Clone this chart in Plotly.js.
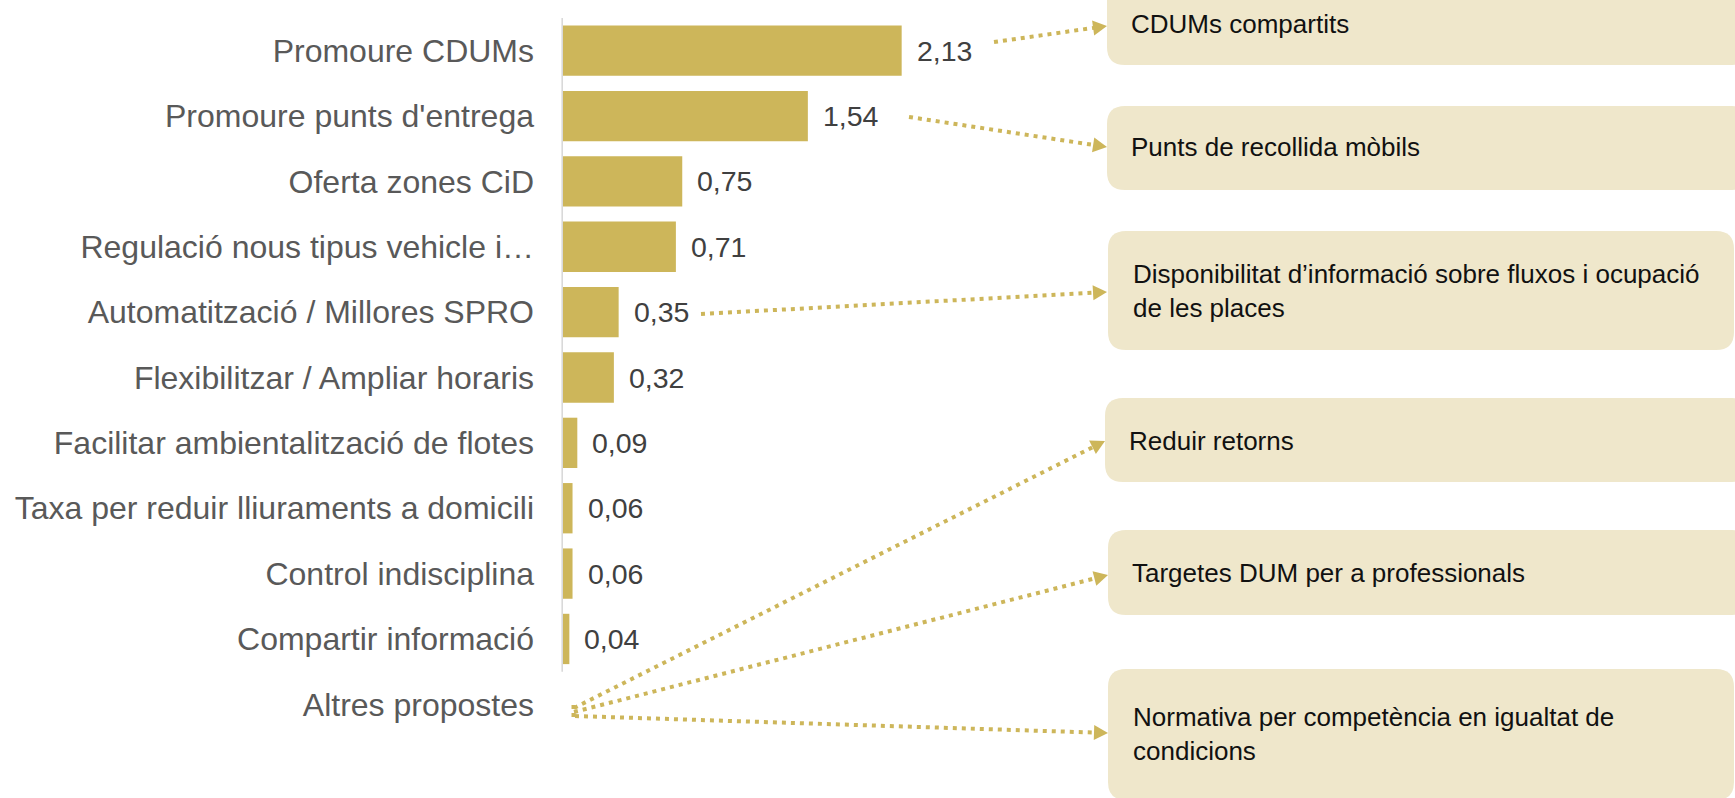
<!DOCTYPE html>
<html>
<head>
<meta charset="utf-8">
<script src="https://cdn.plot.ly/plotly-3.0.1.min.js"></script>
<style>html,body{margin:0;padding:0;background:#fff;}#chart{width:1735px;height:798px;}</style>
</head>
<body>
<div id="chart"></div>
<script>
// ---- data ----
const categories = [
  "Promoure CDUMs",
  "Promoure punts d'entrega",
  "Oferta zones CiD",
  "Regulació nous tipus vehicle i…",
  "Automatització / Millores SPRO",
  "Flexibilitzar / Ampliar horaris",
  "Facilitar ambientalització de flotes",
  "Taxa per reduir lliuraments a domicili",
  "Control indisciplina",
  "Compartir informació",
  "Altres propostes"
];
const values = [2.13, 1.54, 0.75, 0.71, 0.35, 0.32, 0.09, 0.06, 0.06, 0.04, null];
const proposals = [
  "CDUMs compartits",
  "Punts de recollida mòbils",
  "Disponibilitat d’informació sobre fluxos i ocupació<br>de les places",
  "Reduir retorns",
  "Targetes DUM per a professionals",
  "Normativa per competència en igualtat de<br>condicions"
];

// ---- layout geometry (pixels) ----
const W = 1735, H = 798;
const ML = 563, MR = 0, MT = 18, MB = 61;
const PW = W - ML - MR, PH = H - MT - MB;
const X = px => (px - ML) / PW;
const Y = py => (H - MB - py) / PH;

const GOLD = '#CDB65A';
const BOXFILL = '#EFE7CB';

function rrect(x0, y0, x1, y1, r) {
  const p = (x, y) => X(x) + ',' + Y(y);
  return 'M' + p(x0 + r, y0) + ' L' + p(x1 - r, y0) + ' Q' + p(x1, y0) + ' ' + p(x1, y0 + r) +
    ' L' + p(x1, y1 - r) + ' Q' + p(x1, y1) + ' ' + p(x1 - r, y1) +
    ' L' + p(x0 + r, y1) + ' Q' + p(x0, y1) + ' ' + p(x0, y1 - r) +
    ' L' + p(x0, y0 + r) + ' Q' + p(x0, y0) + ' ' + p(x0 + r, y0) + ' Z';
}

function arrow(x0, y0, x1, y1) {
  const dx = x1 - x0, dy = y1 - y0, L = Math.hypot(dx, dy);
  const ux = dx / L, uy = dy / L;
  const hl = 14, hw = 7.5;
  const bx = x1 - ux * hl, by = y1 - uy * hl;
  const line = {
    type: 'line', xref: 'paper', yref: 'paper',
    x0: X(x0), y0: Y(y0), x1: X(bx + ux * 2), y1: Y(by + uy * 2),
    line: {color: GOLD, width: 4, dash: '4px,5px'}
  };
  const head = {
    type: 'path', xref: 'paper', yref: 'paper',
    path: 'M' + X(x1) + ',' + Y(y1) +
      ' L' + X(bx - uy * hw) + ',' + Y(by + ux * hw) +
      ' L' + X(bx + uy * hw) + ',' + Y(by - ux * hw) + ' Z',
    fillcolor: GOLD, line: {width: 0}
  };
  return [line, head];
}

// boxes: [x0, y0, x1, y1, textX, textCenterY]
const boxes = [
  [1107, -18, 1750, 65, 1129, 24],
  [1107, 106, 1750, 190, 1129, 147.5],
  [1108, 231, 1734, 350, 1131, 291],
  [1105, 398, 1750, 482, 1127, 441],
  [1108, 530, 1750, 615, 1130, 572.5],
  [1108, 669, 1734, 800, 1131, 734]
];
const arrows = [
  [994, 42, 1107, 26],
  [909, 117, 1107, 147],
  [701, 314, 1107, 292],
  [574, 708, 1105, 441],
  [574, 712, 1108, 575],
  [575, 716, 1108, 733]
];

const shapes = [];
// axis line spanning the ten bars
shapes.push({type: 'line', xref: 'paper', yref: 'y', x0: X(562.2), x1: X(562.2), y0: -0.5, y1: 9.5,
  line: {color: '#D9D9D9', width: 1.6}});
boxes.forEach(b => shapes.push({type: 'path', xref: 'paper', yref: 'paper', path: rrect(b[0], b[1], b[2], b[3], 18),
  fillcolor: BOXFILL, line: {width: 0}, layer: 'below'}));
shapes.push({type: 'line', xref: 'paper', yref: 'paper', x0: X(573.5), x1: X(573.5), y0: Y(705), y1: Y(718),
  line: {color: GOLD, width: 4, dash: '4px,4px'}});
arrows.forEach(a => arrow(a[0], a[1], a[2], a[3]).forEach(s => shapes.push(s)));

const annotations = [];
categories.forEach((c, i) => {
  if (values[i] === null) return;
  annotations.push({
    x: values[i], y: c, xref: 'x', yref: 'y', xanchor: 'left', yanchor: 'middle',
    xshift: 13, showarrow: false,
    text: values[i].toFixed(2).replace('.', ','),
    font: {family: 'Arial, Liberation Sans, sans-serif', size: 28.5, color: '#404040'}
  });
});
proposals.forEach((t, i) => {
  const b = boxes[i];
  annotations.push({
    x: X(b[4]), y: Y(b[5]), xref: 'paper', yref: 'paper', xanchor: 'left', yanchor: 'middle',
    align: 'left', showarrow: false, text: t,
    font: {family: 'Arial, Liberation Sans, sans-serif', size: 26, color: '#111111'}
  });
});

const trace = {
  type: 'bar', orientation: 'h',
  x: values, y: categories,
  marker: {color: GOLD},
  hoverinfo: 'skip'
};

const layout = {
  width: W, height: H,
  margin: {l: ML, r: MR, t: MT, b: MB, pad: 0},
  paper_bgcolor: '#ffffff', plot_bgcolor: 'rgba(0,0,0,0)',
  showlegend: false,
  bargap: 0.23,
  xaxis: {range: [0, PW / 159], visible: false, fixedrange: true},
  yaxis: {
    type: 'category', categoryorder: 'array', categoryarray: categories,
    range: [10.5, -0.5], showgrid: false, zeroline: false, showline: false,
    ticks: '', ticklabelstandoff: 28, automargin: false, fixedrange: true,
    tickfont: {family: 'Arial, Liberation Sans, sans-serif', size: 32, color: '#595959'}
  },
  shapes: shapes,
  annotations: annotations,
  hovermode: false
};

Plotly.newPlot('chart', [trace], layout, {displayModeBar: false, staticPlot: true});
</script>
</body>
</html>
